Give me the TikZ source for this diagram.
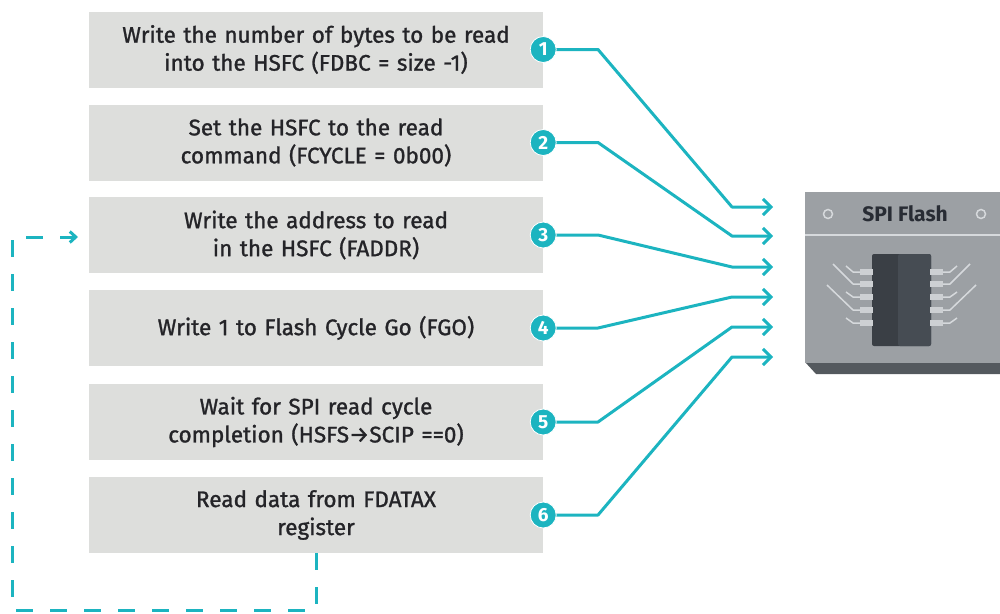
\documentclass[tikz,border=0pt]{standalone}
\usepackage{fontspec}
\setmainfont{Fira Sans}
\newfontfamily\stepfont{Fira Sans}[FakeBold=1.2]
\usetikzlibrary{arrows.meta}
\definecolor{teal1}{RGB}{28,180,192}
\definecolor{boxgray}{RGB}{221,222,220}
\definecolor{txt}{RGB}{36,36,40}
\definecolor{chipbg}{RGB}{156,160,164}
\definecolor{chipdark}{RGB}{84,89,94}
\definecolor{chiplt}{RGB}{214,217,220}
\definecolor{icdark}{RGB}{58,63,69}
\definecolor{iclight}{RGB}{70,76,83}
\definecolor{chiptxt}{RGB}{40,44,52}
\tikzset{
  stepbox/.style={fill=boxgray, minimum width=454pt, minimum height=76pt, text width=450pt,
    align=center, inner sep=0pt, text=txt, font=\stepfont\fontsize{22.5}{28}\selectfont},
  num/.style={circle, fill=teal1, draw=white, line width=0.8pt, minimum size=26pt, inner sep=0pt,
    text=white, font=\bfseries\fontsize{19}{19}\selectfont},
  flow/.style={draw=teal1, line width=3pt, line join=round,
    -{Straight Barb[length=8pt,width=16pt,line width=3pt]}},
  backflow/.style={draw=teal1, line width=3pt, dash pattern=on 17pt off 17pt,
    -{Straight Barb[length=6pt,width=11pt,line width=3pt]}},
  wire/.style={draw=chiplt, line width=1.5pt, line join=round},
  pinst/.style={fill=chiplt!90!gray},
}
\begin{document}
\begin{tikzpicture}[x=1pt,y=-1pt]
\useasboundingbox (0,0) rectangle (1000,613);

% step boxes
\node[stepbox] (b1) at (316,49.5) {Write the number of bytes to be read\\into the HSFC (FDBC = size -1)};
\node[stepbox] (b2) at (316,142.5) {Set the HSFC to the read\\command (FCYCLE = 0b00)};
\node[stepbox] (b3) at (316,235) {Write the address to read\\in the HSFC (FADDR)};
\node[stepbox] (b4) at (316,328) {Write 1 to Flash Cycle Go (FGO)};
\node[stepbox] (b5) at (316,422) {Wait for SPI read cycle\\completion (HSFS→SCIP ==0)};
\node[stepbox] (b6) at (316,515) {Read data from FDATAX\\register};

% chip
\fill[chipdark] (805,362) -- (1000,362) -- (1000,374) -- (816,374) -- cycle;
\fill[chipbg] (805,192) rectangle (1000,363);
\draw[chiplt, line width=2pt] (805,235) -- (1000,235);
\node[font=\bfseries\fontsize{21}{24}\selectfont, text=chiptxt] (spi) at (905,214) {SPI Flash};
\draw[chiplt, line width=1.5pt, fill=chipbg] (828,214) circle (4.5pt);
\draw[chiplt, line width=1.5pt, fill=chipbg] (981,214) circle (4.5pt);
\fill[icdark, rounded corners=2pt] (872,254) rectangle (931,346);
\fill[iclight, rounded corners=2pt] (898,254) rectangle (931,346);
\foreach \yy in {272,284,297,310,323}{
  \fill[pinst] (860,\yy-3) rectangle (873,\yy+3);
  \fill[pinst] (930,\yy-3) rectangle (943,\yy+3);
}
\draw[wire] (860,272) -- (853,272) -- (846,266);
\draw[wire] (860,284) -- (853,284) -- (833,264);
\draw[wire] (860,297) -- (853,297) -- (846,292);
\draw[wire] (860,310) -- (853,310) -- (827,285);
\draw[wire] (860,323) -- (853,323) -- (846,318);
\draw[wire] (943,272) -- (950,272) -- (957,266);
\draw[wire] (943,284) -- (950,284) -- (970,264);
\draw[wire] (943,297) -- (950,297) -- (957,292);
\draw[wire] (943,310) -- (950,310) -- (976,285);
\draw[wire] (943,323) -- (950,323) -- (957,318);

% connector coordinates
\coordinate (k1) at (598,49.5);  \coordinate (j1) at (732,207); \coordinate (e1) at (773,207);
\coordinate (k2) at (598,142.5); \coordinate (j2) at (732,236); \coordinate (e2) at (773,236);
\coordinate (k3) at (598,235);   \coordinate (j3) at (732,267); \coordinate (e3) at (773,267);
\coordinate (k4) at (598,328);   \coordinate (j4) at (732,297); \coordinate (e4) at (773,297);
\coordinate (k5) at (598,422);   \coordinate (j5) at (732,327); \coordinate (e5) at (773,327);
\coordinate (k6) at (598,515);   \coordinate (j6) at (732,357); \coordinate (e6) at (773,357);

\foreach \i in {1,...,6}{
  \draw[flow] (b\i.east) -- (k\i) -- (j\i) -- (e\i);
}
\foreach \i in {1,...,6}{
  \node[num] (n\i) at (b\i.east) {\i};
}

% loop back
\coordinate (d1) at (316,610);
\coordinate (d2) at (12,610);
\coordinate (d3) at (12,237);
\coordinate (d4) at (78,237);
\draw[backflow] (b6.south) -- (d1) -- (d2) -- (d3) -- (d4);
\end{tikzpicture}
\end{document}
